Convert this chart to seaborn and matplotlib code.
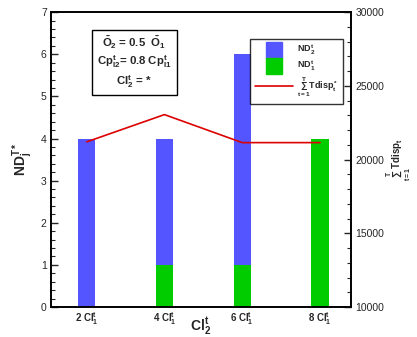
import numpy as np
import pandas as pd
import matplotlib
matplotlib.use("Agg")
import matplotlib.pyplot as plt
import seaborn as sns
from matplotlib.lines import Line2D
from matplotlib.ticker import MultipleLocator

# Data
categories = ["2 Cl$_1^t$", "4 Cl$_1^t$", "6 Cl$_1^t$", "8 Cl$_1^t$"]
nd1 = [0, 1, 1, 4]          # green, bottom
nd2 = [4, 3, 5, 0]          # blue, stacked on top
tdisp = [21200, 23050, 21150, 21150]

sns.set_style("white")
plt.rcParams['font.family'] = ['Liberation Sans', 'DejaVu Sans']
plt.rcParams['mathtext.fontset'] = 'custom'
plt.rcParams['mathtext.rm'] = 'Liberation Sans:bold'
plt.rcParams['mathtext.it'] = 'Liberation Sans:bold'
plt.rcParams['mathtext.bf'] = 'Liberation Sans:bold'

df = pd.DataFrame({'cat': categories, 'nd1': nd1, 'nd2': nd2, 'tdisp': tdisp})
df['total'] = df['nd1'] + df['nd2']

blue = '#5555ff'
green = '#00cc00'
red = '#dd0000'

fig = plt.figure(figsize=(4.17, 3.37), dpi=100)
ax = fig.add_axes([0.122, 0.089, 0.720, 0.875])

sns.barplot(x='cat', y='total', data=df, color=blue, width=0.22, ax=ax, saturation=1, linewidth=0)
sns.barplot(x='cat', y='nd1', data=df, color=green, width=0.22, ax=ax, saturation=1, linewidth=0)

ax.set_xlim(-0.46, 3.4)
ax.set_ylim(0, 7)
ax.yaxis.set_major_locator(MultipleLocator(1))
ax.yaxis.set_minor_locator(MultipleLocator(0.2))
ax.tick_params(axis='y', which='major', direction='in', length=5, width=1, labelsize=7.5, pad=3)
ax.tick_params(axis='y', which='minor', direction='in', length=3, width=0.8)
ax.tick_params(axis='x', length=0, labelsize=7, pad=2)
for lab in ax.get_xticklabels():
    lab.set_fontweight('bold')
ax.set_xlabel("Cl$_2^t$", fontsize=10, fontweight='bold')
ax.xaxis.set_label_coords(0.5, -0.028)
ax.set_ylabel("ND$_j^{T*}$", fontsize=10, fontweight='bold', labelpad=4)
for s in ax.spines.values():
    s.set_linewidth(1.2)
    s.set_color('black')

ax2 = ax.twinx()
sns.lineplot(x=np.arange(len(categories)), y=df['tdisp'], color=red, linewidth=1.2, ax=ax2)
ax2.set_ylim(10000, 30000)
ax2.yaxis.set_major_locator(MultipleLocator(5000))
ax2.yaxis.set_minor_locator(MultipleLocator(1000))
ax2.tick_params(axis='y', which='major', direction='in', length=5, width=1, labelsize=7.5, pad=3)
ax2.tick_params(axis='y', which='minor', direction='in', length=3, width=0.8)
ax2.set_ylabel("$\\sum_{t=1}^{T}$Tdisp$_t$", fontsize=7, fontweight='bold', labelpad=0, rotation=90)
ax2.set_xlim(-0.46, 3.4)
for s in ax2.spines.values():
    s.set_linewidth(1.2)
    s.set_color('black')

# Parameter box
ax.text(0.277, 0.83, "$\\bar{O}_2$ = 0.5  $\\bar{O}_1$\nCp$_{l2}^t$= 0.8 Cp$_{l1}^t$\nCl$_2^t$ = *",
        transform=ax.transAxes, fontsize=8.2, fontweight='bold', va='center', ha='center',
        linespacing=1.25,
        bbox=dict(boxstyle='square,pad=0.45', facecolor='white', edgecolor='black', linewidth=1))

handles = [Line2D([0], [0], marker='s', color=blue, linestyle='none', markersize=11),
           Line2D([0], [0], marker='s', color=green, linestyle='none', markersize=11),
           Line2D([0], [0], color=red, linewidth=1.2)]
labels = ["ND$_2^t$", "ND$_1^t$", "$\\sum_{t=1}^{T}$Tdisp$_t^*$"]
leg = ax2.legend(handles, labels, loc='upper right', bbox_to_anchor=(0.987, 0.925),
                 prop={'size': 6.5, 'weight': 'bold'},
                 frameon=True, fancybox=False, edgecolor='black', handlelength=4.3,
                 handletextpad=0.4, borderpad=0.5, labelspacing=0.2)
leg.get_frame().set_linewidth(1)

fig.savefig("out.png", dpi=100)
